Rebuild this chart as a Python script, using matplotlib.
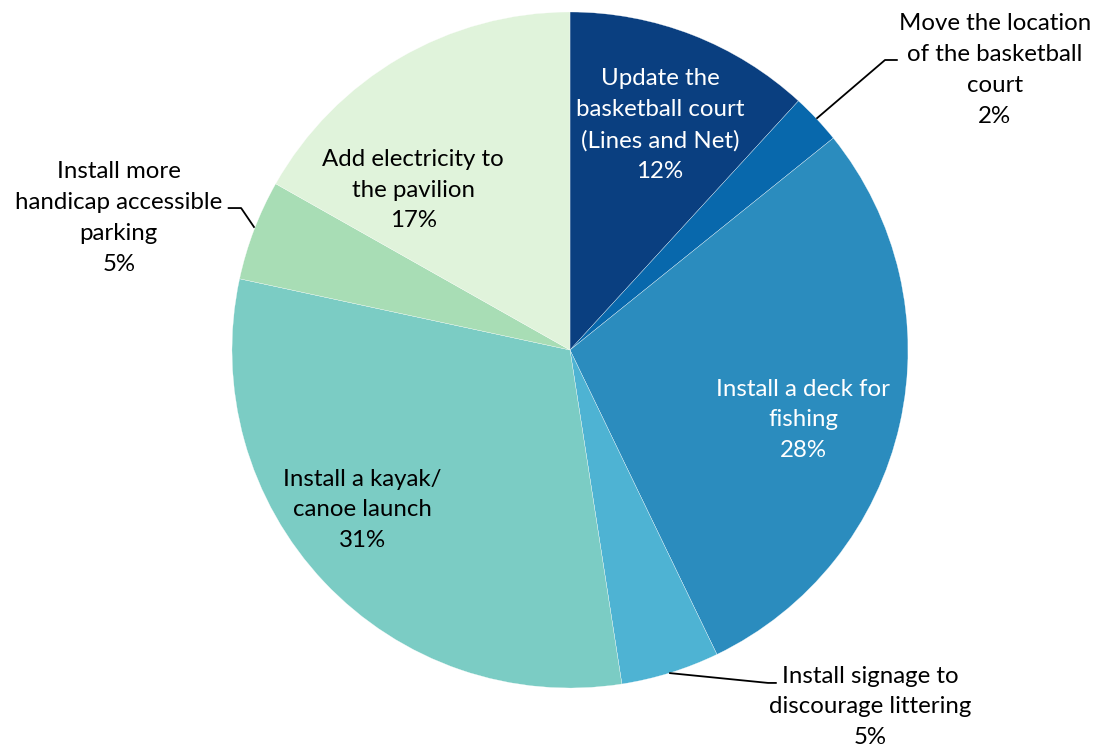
"""pie chart of park improvement preferences"""

import matplotlib.pyplot as plt

labels = ['Update the\nbasketball court\n(Lines and Net)',
          'Move the location\nof the basketball\ncourt',
          'Install a deck for\nfishing',
          'Install signage to\ndiscourage littering',
          'Install a kayak/\ncanoe launch',
          'Install more\nhandicap accessible\nparking',
          'Add electricity to\nthe pavilion']
shares = [11.8, 2.4, 28.6, 4.7, 30.8, 4.8, 16.8]
pct_labels = ['12%', '2%', '28%', '5%', '31%', '5%', '17%']
colors = ['#0a3f80', '#0868ac', '#2b8cbe', '#4eb3d3', '#7bccc4', '#a8ddb5', '#e0f3db']
text_colors = ['white', 'black', 'white', 'black', 'black', 'black', 'black']

# label centres in pie units (radius = 1)
label_pos = [(0.266, 0.666), (1.257, 0.828), (0.689, -0.207), (0.888, -1.056),
             (-0.615, -0.473), (-1.335, 0.39), (-0.464, 0.473)]
# leader lines for the outside labels, in pie units
leaders = {
    1: [(0.731, 0.686), (0.932, 0.858), (0.967, 0.858)],
    3: [(0.296, -0.956), (0.586, -0.985), (0.609, -0.985)],
    5: [(-1.010, 0.420), (-0.973, 0.420), (-0.935, 0.364)],
}

plt.rcParams['font.family'] = ['Lato', 'DejaVu Sans']

fig = plt.figure(figsize=(10.97, 7.54), dpi=100)
ax = fig.add_axes([0, 0, 1, 1])

ax.pie(shares, colors=colors, startangle=90, counterclock=False, radius=1,
       wedgeprops=dict(edgecolor='white', linewidth=0.2))

for i, (x, y) in enumerate(label_pos):
    ax.text(x, y, labels[i] + '\n' + pct_labels[i], ha='center', va='center',
            fontsize=17.3, color=text_colors[i], linespacing=1.58)

for pts in leaders.values():
    xs = [p[0] for p in pts]
    ys = [p[1] for p in pts]
    ax.plot(xs, ys, color='black', linewidth=1.3)

ax.set_xlim(-570 / 338, (1097 - 570) / 338)
ax.set_ylim(-(754 - 350) / 338, 350 / 338)
ax.set_aspect('auto')
ax.axis('off')

fig.savefig('out.png', dpi=100)
